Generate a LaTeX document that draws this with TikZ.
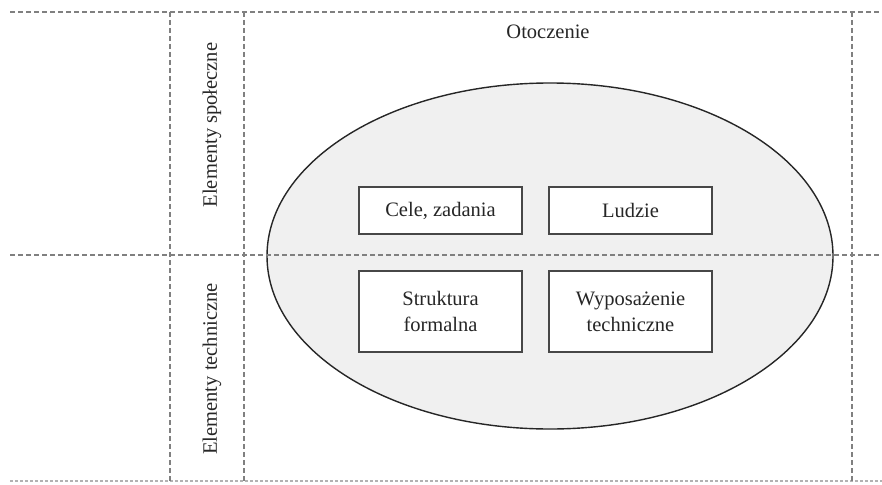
\documentclass[tikz,border=0pt]{standalone}
\usepackage{fontspec}
\setmainfont{Liberation Serif}
\usetikzlibrary{positioning}
\definecolor{gridcolor}{rgb}{0.5,0.5,0.5}
\definecolor{edgecolor}{rgb}{0.15,0.15,0.15}
\definecolor{ovalfill}{rgb}{0.94,0.94,0.94}
\tikzset{
	grid line/.style={
		draw=gridcolor,
		line width=1.3pt,
		dash pattern=on 5pt off 3pt
	},
	block/.style={
		rectangle,
		draw=edgecolor!85,
		line width=1.2pt,
		fill=white,
		minimum width=163pt,
		minimum height=47pt,
		align=center,
		text=edgecolor
	},
	tallblock/.style={
		block,
		minimum height=81pt
	},
	side label/.style={
		rotate=90,
		text=edgecolor
	},
}

\begin{document}
\begin{tikzpicture}[x=1pt,y=-1pt,node distance=190pt,on grid,
	font=\fontsize{20.5}{26}\selectfont]
	\useasboundingbox (0,0) rectangle (882,484);
	% oval
	\draw[draw=edgecolor,fill=ovalfill,line width=1.4pt] (550,256) ellipse (283pt and 173pt);
	% grid
	\draw[grid line] (10,12) -- (882,12);
	\draw[grid line] (10,255) -- (882,255);
	\draw[grid line,draw=gridcolor!60,dash pattern=on 3pt off 2pt] (10,481) -- (882,481);
	\draw[grid line] (170,12) -- (170,481);
	\draw[grid line] (244,12) -- (244,481);
	\draw[grid line] (852,12) -- (852,481);
	% labels
	\node[text=edgecolor] (otoczenie) at (548,32) {Otoczenie};
	\node[side label] (spoleczne) at (212,125) {Elementy społeczne};
	\node[side label] (techniczne) at (212,369) {Elementy techniczne};
	% boxes
	\node[block] (cele) at (440.5,210.5) {Cele, zadania};
	\node[block] (ludzie) [right=of cele] {Ludzie};
	\node[tallblock] (struktura) [below=101pt of cele] {Struktura\\formalna};
	\node[tallblock] (wyposazenie) [right=of struktura] {Wyposażenie\\techniczne};
\end{tikzpicture}
\end{document}
